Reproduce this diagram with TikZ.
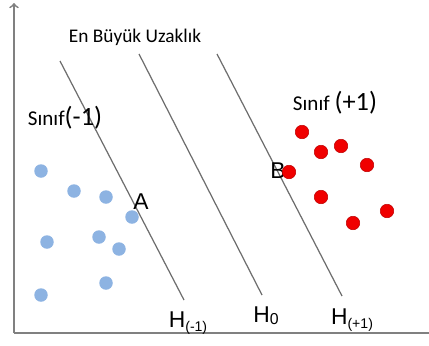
\documentclass[tikz,border=0pt]{standalone}
\usepackage{fontspec}
\setmainfont{Carlito}
\newfontfamily\arialfont{Liberation Sans}
\usepackage{xcolor}
\usetikzlibrary{positioning}

\definecolor{dotblue}{HTML}{8DB3E2}
\definecolor{dotred}{HTML}{F00000}
\definecolor{linegray}{HTML}{6E6E6E}

\tikzset{
  sinir/.style={linegray, line width=0.7pt},
  eksen/.style={gray, line width=1pt},
  mavi/.style={circle, fill=dotblue, inner sep=0pt, minimum size=13.5*0.02cm},
  kirmizi/.style={circle, fill=dotred, draw=red!75!black, line width=0.3pt, inner sep=0pt, minimum size=13.5*0.02cm},
  hetiket/.style={font=\arialfont\fontsize{13}{15}\selectfont, inner sep=0pt}
}

\begin{document}
\begin{tikzpicture}[>=to, x=0.02cm, y=-0.02cm]
    \useasboundingbox (0,0) rectangle (429,345);

    % 1. Trục tọa độ
    \coordinate (O) at (14,333);
    \coordinate (Oy) at (14,3);
    \coordinate (Ox) at (429,333);
    \draw[->, eksen] (O) -- (Oy);
    \draw[eksen] (O) -- (Ox);

    % 2. Ba siêu phẳng H(-1), H0, H(+1)
    \coordinate (h1a) at (60,61);  \coordinate (h1b) at (184,300);
    \coordinate (h0a) at (139,54); \coordinate (h0b) at (262,295);
    \coordinate (h2a) at (217,54); \coordinate (h2b) at (342,296);
    \draw[sinir] (h1a) -- (h1b);
    \draw[sinir] (h0a) -- (h0b);
    \draw[sinir] (h2a) -- (h2b);

    % 3. Nhãn A, B (B nằm dưới chấm đỏ)
    \node[hetiket] (A) at (141,202) {A};
    \node[hetiket] (B) at (278,171) {B};

    % 4. Các điểm lớp (-1) và (+1)
    \foreach \x/\y [count=\i] in {41/171, 74/191, 106/197, 132/217, 47/242,
                                  99/237, 119/249, 106/283, 41/295}
        \node[mavi] (m\i) at (\x,\y) {};
    \foreach \x/\y [count=\i] in {302/132, 321/152, 341/146, 367/165, 289/172,
                                  321/197, 387/211, 353/223}
        \node[kirmizi] (k\i) at (\x,\y) {};

    % 5. Nhãn
    \node[font=\fontsize{11}{13}\selectfont] (baslik) at (135,37) {En Büyük Uzaklık};
    \node[font=\fontsize{12}{14}\selectfont, inner sep=0pt] (sinif1) at (65,118)
        {Sınıf{\fontsize{15}{17}\selectfont(-1)}};
    \node[font=\fontsize{12}{14}\selectfont, inner sep=0pt] (sinif2) at (335,103)
        {Sınıf {\fontsize{15}{17}\selectfont(+1)}};
    \node[hetiket] (hm) at (188,323) {H{\fontsize{8}{9}\selectfont\raisebox{-2pt}{(-1)}}};
    \node[hetiket] (h0) at (266,316) {H{\fontsize{9}{9}\selectfont\raisebox{-1pt}{0}}};
    \node[hetiket] (hp) at (352,320) {H{\fontsize{8}{9}\selectfont\raisebox{-2pt}{(+1)}}};
\end{tikzpicture}
\end{document}
